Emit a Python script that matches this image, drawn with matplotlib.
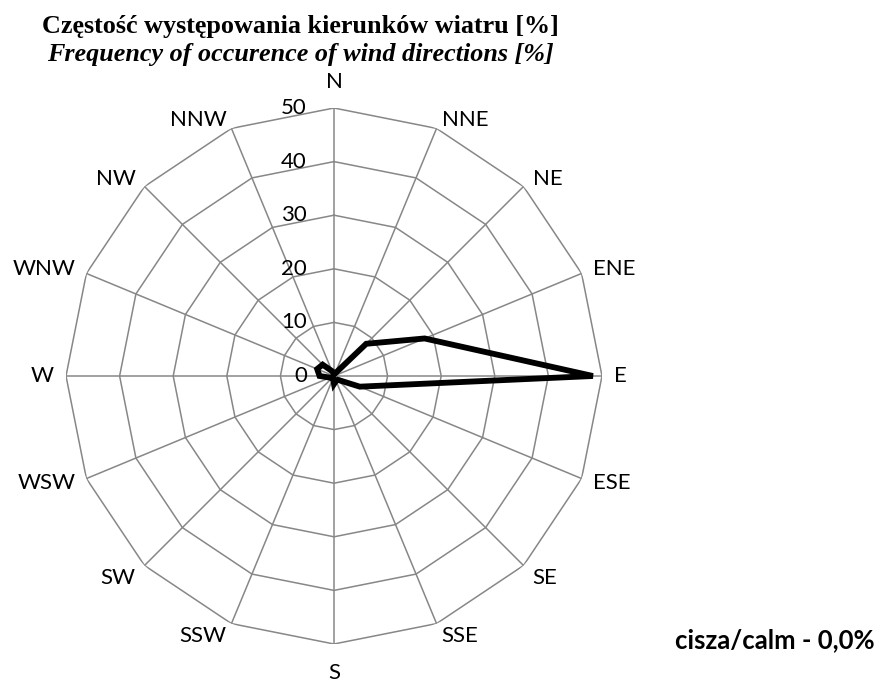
import numpy as np
import matplotlib
matplotlib.use("Agg")
import matplotlib.pyplot as plt

# wind rose data (% of time per direction)
directions = ["N", "NNE", "NE", "ENE", "E", "ESE", "SE", "SSE",
              "S", "SSW", "SW", "WSW", "W", "WNW", "NW", "NNW"]
frequency = [0.5, 0.5, 8.5, 18.3, 48.3, 5.2, 1.0, 1.0,
             1.5, 0.5, 0.5, 0.8, 2.7, 3.4, 3.0, 1.0]
ring_values = [0, 10, 20, 30, 40, 50]
calm_text = "cisza/calm - 0,0%"
title_pl = "Częstość występowania kierunków wiatru [%]"
title_en = "Frequency of occurence of wind directions [%]"


def main():
    W, H = 880, 682
    fig = plt.figure(figsize=(W / 100, H / 100), dpi=100)

    cx, cy, rad = 334, 376, 268
    ax = fig.add_axes([(cx - rad) / W, (H - cy - rad) / H, 2 * rad / W, 2 * rad / H],
                      projection="polar")
    ax.set_theta_zero_location("N")
    ax.set_theta_direction(-1)
    ax.set_ylim(0, 50)
    ax.grid(False)
    ax.spines["polar"].set_visible(False)
    ax.set_xticks([])
    ax.set_yticks([])
    ax.patch.set_alpha(0)

    n = len(directions)
    theta = np.arange(n) * 2 * np.pi / n
    theta_closed = np.append(theta, theta[0])

    grid_col = "#878787"
    # polygon rings
    for v in ring_values[1:]:
        ax.plot(theta_closed, [v] * (n + 1), color=grid_col, lw=1.1, zorder=1)
    # spokes
    for t in theta:
        ax.plot([t, t], [0, ring_values[-1]], color=grid_col, lw=1.1, zorder=1)

    # data polygon
    vals = np.append(frequency, frequency[0])
    ax.plot(theta_closed, vals, color="black", lw=4.2, solid_joinstyle="miter", zorder=3)

    lab_font = "Lato"
    lab_size = 16
    # radial value labels along the N axis
    for v in ring_values:
        ax.annotate(str(v), xy=(0, v), xytext=(-27 * 0.72, 0), textcoords="offset points",
                    ha="right", va="center", fontsize=lab_size, family=lab_font, zorder=4)

    # direction labels around the outside
    for i, (t, lab) in enumerate(zip(theta, directions)):
        s, c = np.sin(t), np.cos(t)
        k = i % 8
        if abs(s) < 1e-6:
            ha = "center"
        elif s > 0:
            ha = "left"
        else:
            ha = "right"
        sx = 1 if s > 1e-6 else (-1 if s < -1e-6 else 0)
        sy = 1 if c > 1e-6 else (-1 if c < -1e-6 else 0)
        if k == 0:  # N / S
            dx, dy = 0, (20 if sy > 0 else -19)
            va = "baseline" if sy > 0 else "top"
        elif k in (1, 7):
            dx, dy = 5 * sx, (2 if sy > 0 else -2)
            va = "baseline" if sy > 0 else "top"
        elif k in (2, 6):
            dx, dy = 9 * sx, (1 if sy > 0 else -2)
            va = "baseline" if sy > 0 else "top"
        elif k in (3, 5):
            dx, dy = 11 * sx, 4 * sy
            va = "center"
        else:  # E / W
            dx, dy = 12 * sx, 0
            va = "center"
        ax.annotate(lab, xy=(t, ring_values[-1]), xytext=(dx * 0.72, dy * 0.72),
                    textcoords="offset points", ha=ha, va=va, fontsize=lab_size,
                    family=lab_font, annotation_clip=False)

    # titles
    fig.text(300 / W, 1 - 33 / H, title_pl, ha="center", va="baseline",
             fontsize=18.8, fontweight="bold", family="Liberation Serif")
    fig.text(300 / W, 1 - 61 / H, title_en, ha="center", va="baseline",
             fontsize=18.8, fontweight="bold", fontstyle="italic", family="Liberation Serif")

    # calm note
    fig.text(875 / W, 1 - 640 / H, calm_text, ha="right", va="center",
             fontsize=18.5, fontweight="bold", family=lab_font)

    fig.savefig("out.png", dpi=100, facecolor="white")
    plt.close(fig)


if __name__ == "__main__":
    main()
